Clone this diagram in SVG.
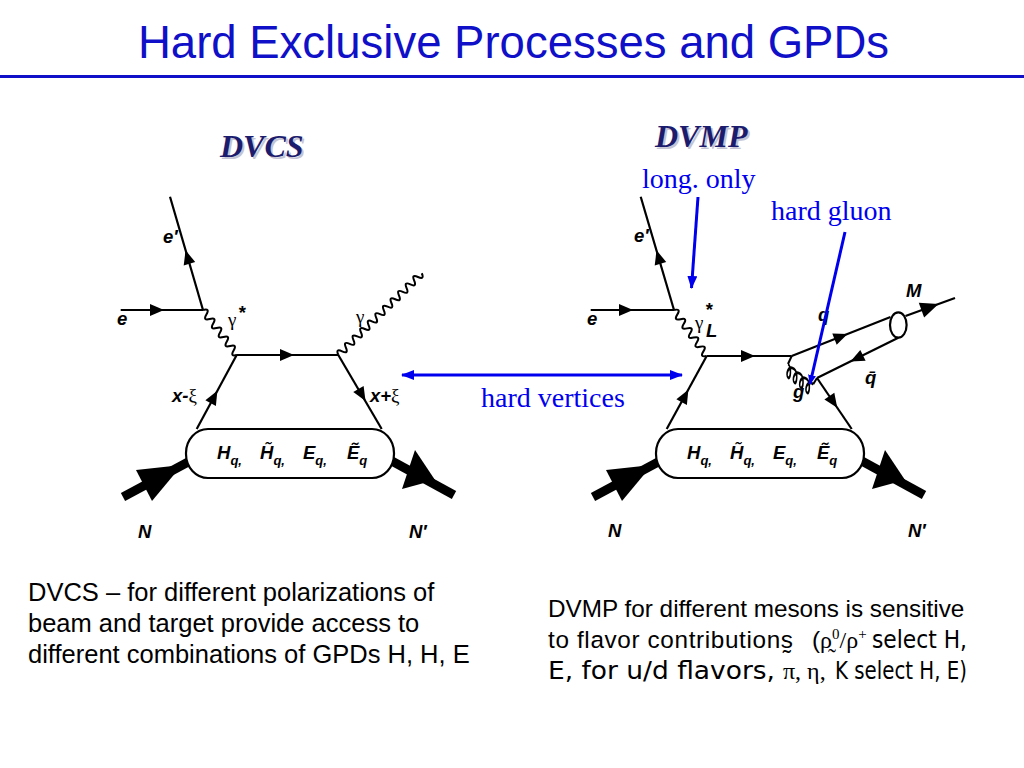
<svg xmlns="http://www.w3.org/2000/svg" width="1024" height="768" viewBox="0 0 1024 768">
<defs>
<style>
.ln{stroke:#000;stroke-width:2.2;fill:none}
.thick{stroke:#000;stroke-width:9;fill:none}
.wave{stroke:#000;stroke-width:2;fill:none;stroke-linejoin:round}
.box{stroke:#000;stroke-width:2.2;fill:#fff}
.blue{stroke:#0000ee;stroke-width:3;fill:none}
.lb{font-family:"Liberation Sans",Arial,sans-serif;font-weight:bold;font-style:italic;font-size:18.5px;fill:#000}
.gr{font-family:"Liberation Serif","Times New Roman",serif;font-weight:normal;font-style:normal;font-size:19px;fill:#000}
.ann{font-family:"Liberation Serif","Times New Roman",serif;font-size:28px;fill:#0000ee}
.hd{font-family:"Liberation Serif","Times New Roman",serif;font-weight:bold;font-style:italic;fill:#1c1c6e}
.hs{font-family:"Liberation Serif","Times New Roman",serif;font-weight:bold;font-style:italic;fill:#c4c4d4}
.body{font-family:"Liberation Sans",Arial,sans-serif;fill:#000}
.comic{font-family:"DejaVu Sans",Verdana,sans-serif;font-size:24px;fill:#000}
.ser{font-family:"Liberation Serif","Times New Roman",serif;font-size:24px;fill:#000}
</style>
<path id="ah" d="M7,0 L-7,-6 L-7,6 Z" fill="#000"/>
<path id="coil" d="M0,0 c5,0 6,9 2.5,9 c-3.5,0 -2.6,-9 5.9,-9 c5,0 6,9 2.5,9 c-3.5,0 -2.6,-9 5.9,-9 c5,0 6,9 2.5,9 c-3.5,0 -2.6,-9 5.9,-9 c5,0 6,9 2.5,9 c-3.5,0 -2.6,-9 5.9,-9"/>
<marker id="bm" markerWidth="13" markerHeight="10" refX="12" refY="5" orient="auto-start-reverse" markerUnits="userSpaceOnUse"><path d="M0,0 L13,5 L0,10 Z" fill="#0000ee"/></marker>
<marker id="bms" markerWidth="10" markerHeight="8" refX="9" refY="4" orient="auto" markerUnits="userSpaceOnUse"><path d="M0,0 L10,4 L0,8 Z" fill="#0000ee"/></marker>
</defs>
<rect width="1024" height="768" fill="#fff"/>

<g id="title">
<text x="138" y="58" font-family="Liberation Sans, Arial, sans-serif" font-size="45.5" fill="#1010c8">Hard Exclusive Processes and GPDs</text>
<rect x="0" y="75" width="1024" height="3" fill="#1010c8"/>
</g>

<g id="dvcs-heading">
<text class="hs" x="222" y="159" font-size="32">DVCS</text>
<text class="hd" x="220" y="157" font-size="32">DVCS</text>
</g>
<g id="dvmp-heading">
<text class="hs" x="657" y="149" font-size="32">DVMP</text>
<text class="hd" x="655" y="147" font-size="32">DVMP</text>
</g>

<g id="dvcs-diagram">
<line class="ln" x1="120.7" y1="310" x2="203" y2="310"/>
<line class="ln" x1="170" y1="196.7" x2="203" y2="310"/>
<path class="wave" transform="translate(203,310) rotate(52.9)" d="M0,0 q2.82,-7 5.64,0 t5.64,0 t5.64,0 t5.64,0 t5.64,0 t5.64,0 t5.64,0 t5.64,0 t5.64,0 t5.64,0"/>
<line class="ln" x1="236.7" y1="355" x2="338.3" y2="355"/>
<path class="wave" transform="translate(338.3,355) rotate(-44.4)" d="M0,0 q2.655,-7 5.31,0 t5.31,0 t5.31,0 t5.31,0 t5.31,0 t5.31,0 t5.31,0 t5.31,0 t5.31,0 t5.31,0 t5.31,0 t5.31,0 t5.31,0 t5.31,0 t5.31,0 t5.31,0 t5.31,0 t5.31,0 t5.31,0 t5.31,0 t5.31,0 t5.31,0"/>
<line class="ln" x1="196.7" y1="429" x2="236.7" y2="355"/>
<line class="ln" x1="338.3" y1="355" x2="381.7" y2="429"/>
<line class="thick" x1="123" y1="497" x2="190" y2="461"/>
<line class="thick" x1="390" y1="460" x2="454" y2="495"/>
<polygon points="182,465 136,470 152,501" fill="#000"/>
<polygon points="435,480 415,450 402,489" fill="#000"/>
<rect class="box" x="186" y="429" width="208" height="49" rx="22" ry="24"/>
<use href="#ah" transform="translate(157,310)"/>
<use href="#ah" transform="translate(187.5,257) rotate(-106.1)"/>
<use href="#ah" transform="translate(287,355)"/>
<use href="#ah" transform="translate(214,397) rotate(-61.3)"/>
<use href="#ah" transform="translate(362,395) rotate(59.4)"/>
<text class="lb" x="117" y="325">e</text>
<text class="lb" x="163" y="243">e′</text>
<text class="gr" x="228" y="326">γ</text>
<text class="lb" x="238" y="319" font-size="13">*</text>
<text class="gr" x="356" y="323">γ</text>
<text class="lb" x="172" y="402">x-<tspan class="gr">ξ</tspan></text>
<text class="lb" x="370" y="402">x+<tspan class="gr">ξ</tspan></text>
<text class="lb" font-size="19"><tspan x="217" y="459">H</tspan><tspan font-size="13" dy="6">q,</tspan><tspan x="260" y="459">H̃</tspan><tspan font-size="13" dy="6">q,</tspan><tspan x="303" y="459">E</tspan><tspan font-size="13" dy="6">q,</tspan><tspan x="347" y="459">Ẽ</tspan><tspan font-size="13" dy="6">q</tspan></text>
<text class="lb" x="138" y="538">N</text>
<text class="lb" x="409" y="538">N′</text>
</g>

<g id="dvmp-diagram">
<line class="ln" x1="590.7" y1="310" x2="674" y2="310"/>
<line class="ln" x1="640.7" y1="196.7" x2="674" y2="310"/>
<path class="wave" transform="translate(674,310) rotate(54.6)" d="M0,0 q2.82,-7 5.64,0 t5.64,0 t5.64,0 t5.64,0 t5.64,0 t5.64,0 t5.64,0 t5.64,0 t5.64,0 t5.64,0"/>
<line class="ln" x1="706.7" y1="356" x2="791.7" y2="356"/>
<line class="ln" x1="666.7" y1="429" x2="706.7" y2="356"/>
<line class="ln" x1="791.7" y1="356" x2="890.5" y2="317"/>
<ellipse class="ln" cx="898.3" cy="325" rx="8.3" ry="12.7"/>
<line class="ln" x1="898.3" y1="337.7" x2="817" y2="378"/>
<line class="ln" x1="817" y1="378" x2="851.7" y2="429"/>
<line class="ln" x1="905.5" y1="316" x2="955" y2="298"/>
<path class="wave" d="M791.7,356 L788,364"/>
<use href="#coil" class="wave" transform="matrix(0.75,0.6,-0.2,1.35,788,364)"/>
<path class="wave" d="M813.2,384.2 L817,378"/>
<line class="thick" x1="593" y1="497" x2="660" y2="461"/>
<line class="thick" x1="860" y1="460" x2="924" y2="495"/>
<polygon points="652,465 606,470 622,501" fill="#000"/>
<polygon points="905,480 885,450 872,489" fill="#000"/>
<rect class="box" x="656" y="429" width="208" height="49" rx="22" ry="24"/>
<use href="#ah" transform="translate(626,310)"/>
<use href="#ah" transform="translate(658.5,257) rotate(-106.4)"/>
<use href="#ah" transform="translate(748,356)"/>
<use href="#ah" transform="translate(685,396) rotate(-61.3)"/>
<use href="#ah" transform="translate(841,336.5) rotate(-21.5)"/>
<use href="#ah" transform="translate(856.7,358.5) rotate(153.6)"/>
<use href="#ah" transform="translate(833.3,402) rotate(55.8)"/>
<use href="#ah" transform="translate(930,307) rotate(-20) scale(1.3)"/>
<text class="lb" x="587" y="325">e</text>
<text class="lb" x="634" y="242">e′</text>
<text class="gr" x="695" y="329">γ</text>
<text class="lb" x="705" y="316" font-size="13">*</text>
<text class="lb" x="706" y="337" font-size="12">L</text>
<text class="lb" x="818" y="321">q</text>
<text class="lb" x="906" y="297">M</text>
<text class="lb" x="865" y="384">q̄</text>
<text class="lb" x="793" y="398">g</text>
<text class="lb" font-size="19"><tspan x="687" y="459">H</tspan><tspan font-size="13" dy="6">q,</tspan><tspan x="730" y="459">H̃</tspan><tspan font-size="13" dy="6">q,</tspan><tspan x="773" y="459">E</tspan><tspan font-size="13" dy="6">q,</tspan><tspan x="817" y="459">Ẽ</tspan><tspan font-size="13" dy="6">q</tspan></text>
<text class="lb" x="608" y="537">N</text>
<text class="lb" x="908" y="537">N′</text>
</g>

<g id="annotations">
<text class="ann" x="642" y="188">long. only</text>
<text class="ann" x="771" y="220">hard gluon</text>
<text class="ann" x="481" y="407">hard vertices</text>
</g>

<g id="connectors">
<line class="blue" x1="698" y1="197" x2="691.5" y2="288" marker-end="url(#bm)"/>
<line class="blue" x1="845" y1="232" x2="810" y2="384" stroke-width="2.5" marker-end="url(#bms)"/>
<line class="blue" x1="402" y1="375" x2="682" y2="375" marker-start="url(#bm)" marker-end="url(#bm)"/>
</g>

<g id="note-dvcs">
<text class="body" font-size="25.5" x="28" y="601">DVCS – for different polarizations of</text>
<text class="body" font-size="25.5" x="28" y="632">beam and target provide access to</text>
<text class="body" font-size="25.5" x="28" y="663">different combinations of GPDs H, H, E</text>
</g>

<g id="note-dvmp">
<text class="body" font-size="24.3" x="548" y="617">DVMP for different mesons is sensitive</text>
<text class="body" font-size="24.3" x="548" y="648" textLength="245">to flavor contributions̰</text>
<text class="body" font-size="24.3" x="812" y="648">(</text>
<text class="ser" x="820" y="648">ρ̰<tspan font-size="15" dy="-9">0</tspan><tspan dy="9">/ρ</tspan><tspan font-size="15" dy="-9">+</tspan></text>
<text class="comic" x="872" y="648" textLength="95" lengthAdjust="spacingAndGlyphs">select H,</text>
<text class="comic" x="548" y="679" textLength="227" lengthAdjust="spacingAndGlyphs">E, for u/d flavors,</text>
<text class="ser" x="783" y="679">π, η,</text>
<text class="comic" font-size="23" x="835" y="679" textLength="132" lengthAdjust="spacingAndGlyphs">K select H, E)</text>
</g>
</svg>
